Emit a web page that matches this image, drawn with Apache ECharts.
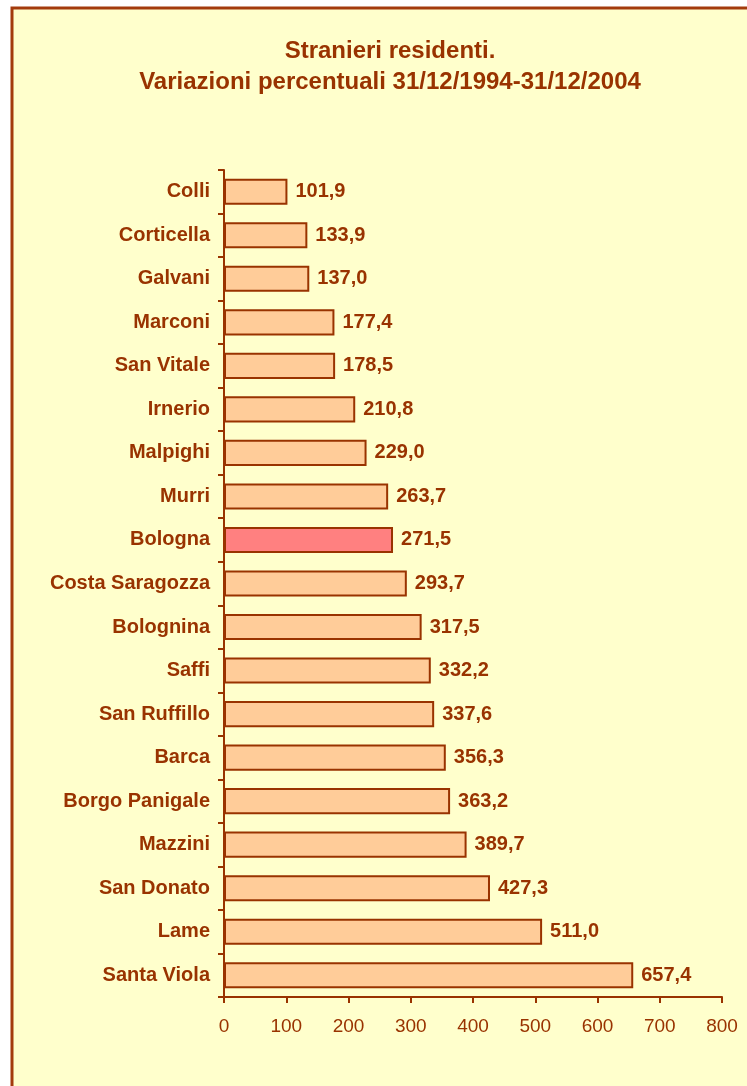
<!DOCTYPE html>
<html>
<head>
<meta charset="utf-8">
<script src="https://cdn.jsdelivr.net/npm/echarts@6/dist/echarts.min.js"></script>
<style>
  html, body { margin: 0; padding: 0; background: #ffffff; }
  #chart { width: 747px; height: 1086px; }
</style>
</head>
<body>
<div id="chart"></div>
<script>
// dati
let quartieri = ['Colli', 'Corticella', 'Galvani', 'Marconi', 'San Vitale', 'Irnerio', 'Malpighi', 'Murri', 'Bologna',
    'Costa Saragozza', 'Bolognina', 'Saffi', 'San Ruffillo', 'Barca', 'Borgo Panigale', 'Mazzini', 'San Donato', 'Lame', 'Santa Viola'];
let variazioni = [101.9, 133.9, 137.0, 177.4, 178.5, 210.8, 229.0, 263.7, 271.5,
    293.7, 317.5, 332.2, 337.6, 356.3, 363.2, 389.7, 427.3, 511.0, 657.4];
let evidenziato = 'Bologna';

let marrone = '#993300';

let myChart = echarts.init(document.getElementById('chart'));

let barData = [];
for (let i = 0; i < variazioni.length; i++) {
    let item = {value: variazioni[i]};
    if (quartieri[i] == evidenziato) {
        item.itemStyle = {color: '#FF8080'};
    }
    barData.push(item);
}

let option = {
    backgroundColor: '#ffffff',
    animation: false,
    textStyle: {
        fontFamily: 'Liberation Sans, Arial, sans-serif'
    },
    graphic: [{
        type: 'rect',
        z: -10,
        shape: {x: 12, y: 8, width: 760, height: 1100},
        style: {fill: '#FFFFCC', stroke: '#A33B0C', lineWidth: 3}
    }],
    title: {
        text: 'Stranieri residenti.\nVariazioni percentuali 31/12/1994-31/12/2004',
        left: 385,
        top: 31,
        textAlign: 'center',
        textStyle: {
            color: marrone,
            fontSize: 24,
            fontWeight: 'bold',
            lineHeight: 31
        }
    },
    grid: {
        left: 224,
        right: 25,
        top: 170,
        bottom: 89
    },
    xAxis: {
        type: 'value',
        min: 0,
        max: 800,
        interval: 100,
        axisLine: {show: true, lineStyle: {color: marrone, width: 2}},
        axisTick: {show: true, length: 6, lineStyle: {color: marrone, width: 2}},
        axisLabel: {color: marrone, fontSize: 19, margin: 20},
        splitLine: {show: false}
    },
    yAxis: {
        type: 'category',
        inverse: true,
        data: quartieri,
        axisLine: {show: true, lineStyle: {color: marrone, width: 2}},
        axisTick: {show: true, length: 6, lineStyle: {color: marrone, width: 2}},
        axisLabel: {color: marrone, fontSize: 20, fontWeight: 'bold', margin: 14}
    },
    series: [{
        type: 'bar',
        data: barData,
        barCategoryGap: '40%',
        itemStyle: {
            color: '#FFCC99',
            borderColor: marrone,
            borderWidth: 2
        },
        label: {
            show: true,
            position: 'right',
            distance: 8,
            color: marrone,
            fontSize: 20,
            fontWeight: 'bold',
            formatter: function (p) {
                return p.value.toFixed(1).replace('.', ',');
            }
        }
    }]
};
myChart.setOption(option);
</script>
</body>
</html>
